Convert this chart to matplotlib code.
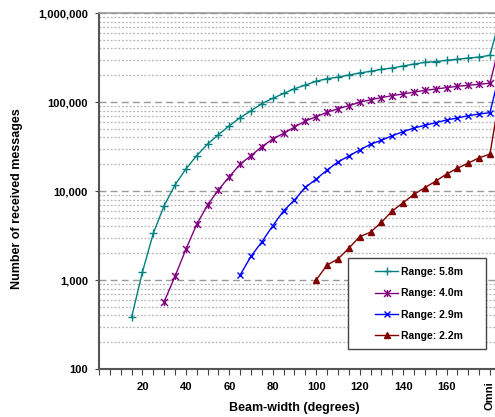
import numpy as np
import matplotlib
matplotlib.use('Agg')
import matplotlib.pyplot as plt
from matplotlib.patches import Rectangle
from matplotlib.path import Path

matplotlib.rc('font', family='Liberation Sans', weight='bold')

# beam widths (degrees); "Omni" point drawn at 185
x_green = list(range(15, 185, 5)) + [185]
x_purple = list(range(30, 185, 5)) + [185]
x_blue = list(range(65, 185, 5)) + [185]
x_red = list(range(100, 185, 5)) + [185]

range_58 = [381, 1230, 3350, 6840, 11700, 17700, 25000, 33700, 43000, 54000,
            66700, 79800, 96000, 110000, 125000, 141000, 155000, 171000, 183000,
            190000, 201000, 212000, 221000, 233000, 241000, 254000, 267000,
            279000, 284000, 294000, 302000, 312000, 320000, 335000, 950000]
range_40 = [570, 1100, 2210, 4230, 6970, 10300, 14500, 20000, 25000, 31500,
            38400, 44500, 52300, 61200, 68400, 76600, 84000, 90900, 99200,
            106000, 112000, 118000, 123000, 129000, 135000, 140000, 145000,
            150000, 154000, 158000, 163000, 500000]
range_29 = [1140, 1850, 2690, 4070, 6000, 7920, 11000, 13600, 17200, 21200,
            24700, 28900, 33500, 37100, 41800, 46400, 51000, 54700, 58500,
            62800, 66100, 70200, 73300, 75800, 240000]
range_22 = [1000, 1475, 1720, 2270, 3070, 3440, 4450, 5960, 7390, 9170, 10900,
            12900, 15500, 18000, 20600, 23600, 26000, 140000]

labels = ['Range: 5.8m', 'Range: 4.0m', 'Range: 2.9m', 'Range: 2.2m']

# excel style star: x with a vertical bar
star = Path([(-1, -1), (1, 1), (-1, 1), (1, -1), (0, -1), (0, 1)],
            [Path.MOVETO, Path.LINETO, Path.MOVETO, Path.LINETO, Path.MOVETO, Path.LINETO])

fig = plt.figure(figsize=(4.95, 4.17), dpi=100)
ax = fig.add_axes([0.2, 0.1151, 0.8337, 0.8537])

ax.plot(x_green, range_58, color='#008080', marker='+', ms=6, mew=1, lw=1, label=labels[0])
ax.plot(x_purple, range_40, color='#800080', marker=star, ms=5, mew=1, lw=1, label=labels[1])
ax.plot(x_blue, range_29, color='#0000ff', marker='x', ms=5, mew=1, lw=1, label=labels[2])
ax.plot(x_red, range_22, color='#800000', marker='^', ms=5, lw=1, label=labels[3])

ax.set_yscale('log')
ax.set_ylim(100, 1000000)
ax.set_xlim(0, 190)

yt = [100, 1000, 10000, 100000, 1000000]
ax.set_yticks(yt)
ax.set_yticklabels(['{:,}'.format(v) for v in yt], fontsize=8, fontweight='bold')
ax.yaxis.set_minor_formatter(matplotlib.ticker.NullFormatter())
ax.tick_params(axis='y', which='major', length=3, pad=5, color='#444')
ax.tick_params(axis='y', which='minor', length=0)

xt = list(range(0, 185, 5))
xl = []
for v in xt:
    if v == 180:
        xl.append('Omni')
    elif v % 20 == 0 and v > 0:
        xl.append(str(v))
    else:
        xl.append('')
ax.set_xticks(xt)
ax.set_xticklabels(xl, fontsize=8, fontweight='bold')
ax.tick_params(axis='x', length=4, pad=5, color='#444')
omni = ax.get_xticklabels()[-1]
omni.set_rotation(90)
omni.set_va('top')

ax.grid(True, which='major', axis='y', color='#999999', linestyle=(0, (5, 3)), lw=1)
ax.grid(True, which='minor', axis='y', color='#b4b4b4', linestyle=(0, (1.5, 1.5)), lw=0.9)

for s in ['left', 'bottom']:
    ax.spines[s].set_color('#555555')
    ax.spines[s].set_linewidth(1.5)
ax.spines['top'].set_color('#999999')
ax.spines['top'].set_linewidth(1.2)

ax.set_xlabel('Beam-width (degrees)', fontsize=9, fontweight='bold')
ax.xaxis.set_label_coords(0.4725, -0.093)
ax.set_ylabel('Number of received messages', fontsize=9, fontweight='bold')
ax.yaxis.set_label_coords(-0.183, 0.48)

box = Rectangle((0.6026, 0.0562), 0.3351, 0.2548, transform=ax.transAxes,
                facecolor='white', edgecolor='#444444', lw=1, zorder=5)
ax.add_patch(box)
leg = ax.legend(loc='upper left', bbox_to_anchor=(0.6567, 0.302), frameon=False,
                borderpad=0, handlelength=2.2, handletextpad=0.3, labelspacing=1.1,
                prop={'size': 7.5, 'weight': 'bold'})
leg.set_zorder(6)

plt.savefig('out.png', dpi=100)
